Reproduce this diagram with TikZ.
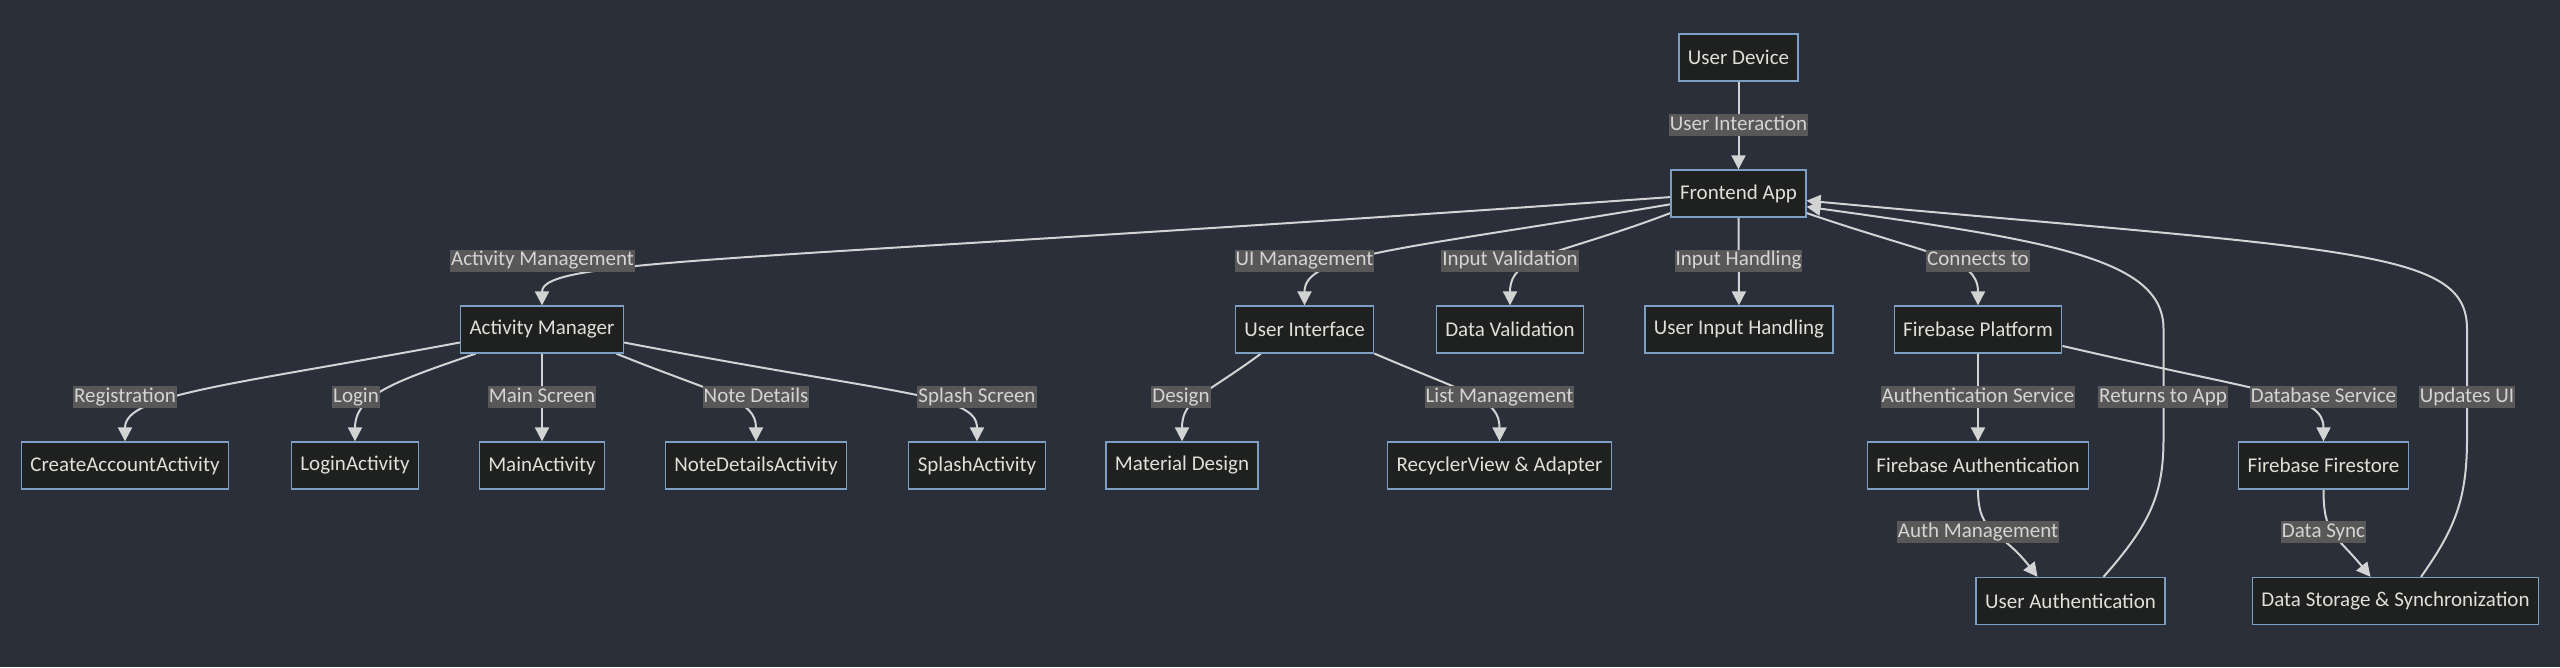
\documentclass[tikz,border=0pt]{standalone}
\usepackage{fontspec}
\setmainfont{Carlito}
\usetikzlibrary{arrows.meta}
\definecolor{bgcol}{HTML}{2A2F3A}
\definecolor{boxfill}{HTML}{1F2020}
\definecolor{boxline}{HTML}{7D9FC2}
\definecolor{boxtext}{HTML}{E0DFD8}
\definecolor{linecol}{HTML}{D3D3D3}
\definecolor{lblfill}{HTML}{585858}
\definecolor{lbltext}{HTML}{D4D4D4}
\pgfdeclarelayer{bg}
\pgfdeclarelayer{edges}
\pgfsetlayers{bg,edges,main}

\begin{document}
\begin{tikzpicture}[x=1pt, y=-1pt,
    font=\fontsize{21}{25}\selectfont,
    box/.style={draw=boxline, fill=boxfill, line width=1.3pt, text=boxtext,
        inner xsep=9pt, minimum height=47pt},
    lbl/.style={fill=lblfill, text=lbltext, inner xsep=1pt, inner ysep=1pt,
        text height=15pt, text depth=5pt},
    edge/.style={draw=linecol, line width=2pt, -{Triangle[length=14pt,width=14pt]}}]
\useasboundingbox (0,0) rectangle (2560,667);
\begin{pgfonlayer}{bg}
\fill[bgcol] (0,0) rectangle (2560,667);
\end{pgfonlayer}

\node[box] (dev) at (1738.5,57.5) {User Device};
\node[box] (app) at (1738.5,193.5) {Frontend App};

\node[box] (am)  at (542,329.5)    {Activity Manager};
\node[box] (ui)  at (1304.5,329.5) {User Interface};
\node[box] (dv)  at (1510,329.5)   {Data Validation};
\node[box] (uih) at (1739,329.5)   {User Input Handling};
\node[box] (fp)  at (1978,329.5)   {Firebase Platform};

\node[box] (ca) at (125,465.5)    {CreateAccountActivity};
\node[box] (la) at (355,465.5)    {LoginActivity};
\node[box] (ma) at (542,465.5)    {MainActivity};
\node[box] (nd) at (756,465.5)    {NoteDetailsActivity};
\node[box] (sa) at (977,465.5)    {SplashActivity};
\node[box] (md) at (1182,465.5)   {Material Design};
\node[box] (rv) at (1499.5,465.5) {RecyclerView \& Adapter};
\node[box] (fa) at (1978,465.5)   {Firebase Authentication};
\node[box] (ff) at (2323.5,465.5) {Firebase Firestore};

\node[box] (ua) at (2070.5,601) {User Authentication};
\node[box] (ds) at (2395.5,601) {Data Storage \& Synchronization};

\node[lbl] (lInter)  at (1738.5,125) {User Interaction};
\node[lbl] (lAct)    at (542.5,260.5) {Activity Management};
\node[lbl] (lUi)     at (1304.5,260.5) {UI Management};
\node[lbl] (lVal)    at (1510,260.5) {Input Validation};
\node[lbl] (lInput)  at (1738.5,260.5) {Input Handling};
\node[lbl] (lConn)   at (1978,260.5) {Connects to};
\node[lbl] (lReg)    at (125,397) {Registration};
\node[lbl] (lLogin)  at (356,397) {Login};
\node[lbl] (lMain)   at (542,397) {Main Screen};
\node[lbl] (lNote)   at (756,397) {Note Details};
\node[lbl] (lSplash) at (977,397) {Splash Screen};
\node[lbl] (lDesign) at (1181,397) {Design};
\node[lbl] (lList)   at (1499.5,397) {List Management};
\node[lbl] (lAuthS)  at (1978,397) {Authentication Service};
\node[lbl] (lRet)    at (2163,397) {Returns to App};
\node[lbl] (lDbS)    at (2323.5,397) {Database Service};
\node[lbl] (lUpd)    at (2467,397) {Updates UI};
\node[lbl] (lAuthM)  at (1978,532) {Auth Management};
\node[lbl] (lSync)   at (2323.5,532) {Data Sync};

\begin{pgfonlayer}{edges}
\draw[edge] (dev) -- (app);
\draw[edge] (app.183) .. controls +(-912,65) and +(0,-48) .. (am.north);
\draw[edge] (app.189) .. controls +(-272,46) and +(0,-51) .. (ui.north);
\draw[edge] (app.196) .. controls +(-110,42) and +(0,-51) .. (dv.north);
\draw[edge] (app) -- (uih);
\draw[edge] (app.344) .. controls +(125,43) and +(0,-48) .. (fp.north);

\draw[edge] (am.189) .. controls +(-231,43) and +(0,-47) .. (ca.north);
\draw[edge] (am.200) .. controls +(-78,27) and +(0,-47) .. (la.north);
\draw[edge] (am) -- (ma);
\draw[edge] (am.342) .. controls +(104,42) and +(0,-42) .. (nd.north);
\draw[edge] (am.351) .. controls +(277,53) and +(0,-47) .. (sa.north);

\draw[edge] (ui.209) .. controls +(-57,42) and +(0,-42) .. (md.north);
\draw[edge] (ui.341) .. controls +(98,42) and +(0,-42) .. (rv.north);

\draw[edge] (fp) -- (fa);
\draw[edge] (fp.349) .. controls +(206,48) and +(0,-47) .. (ff.north);
\draw[edge] (fa.south) .. controls +(0,46) and +(-37,-48) .. ([xshift=-33pt]ua.north);
\draw[edge] (ff.south) .. controls +(0,46) and +(-35,-43) .. ([xshift=-25pt]ds.north);

\draw[edge] ([xshift=33pt]ua.north) .. controls +(47,-53) and +(0,55) .. ++(60,-138)
    -- ++(0,-110) .. controls +(0,-70) and +(245,34) .. (app.349);
\draw[edge] ([xshift=25.5pt]ds.north) .. controls +(34,-48) and +(0,60) .. ++(46,-138)
    -- ++(0,-110) .. controls +(0,-80) and +(545,50) .. (app.354);
\end{pgfonlayer}
\end{tikzpicture}
\end{document}
